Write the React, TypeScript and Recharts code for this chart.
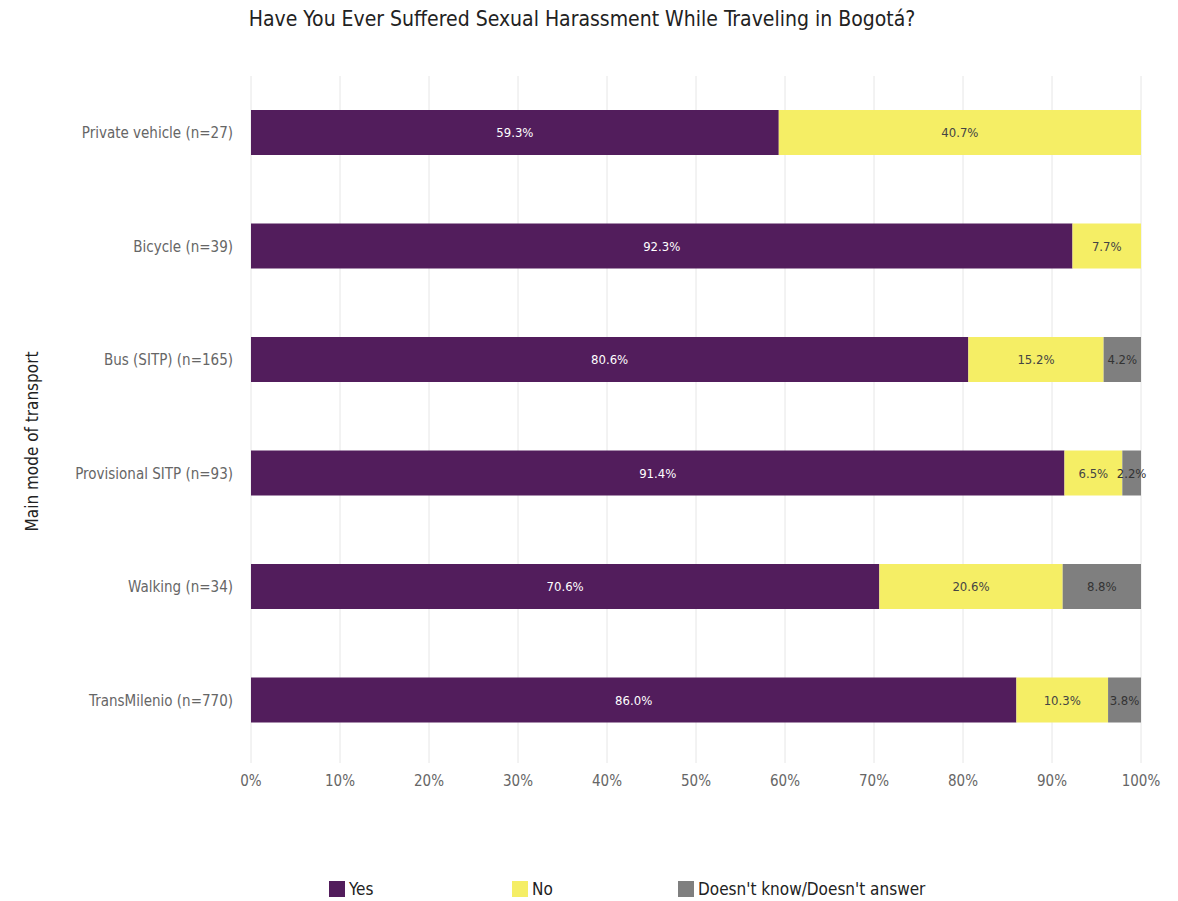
import React from "react";
import {
  BarChart,
  Bar,
  XAxis,
  YAxis,
  CartesianGrid,
  LabelList,
  Legend,
} from "recharts";

const modes = [
  "Private vehicle (n=27)",
  "Bicycle (n=39)",
  "Bus (SITP) (n=165)",
  "Provisional SITP (n=93)",
  "Walking (n=34)",
  "TransMilenio (n=770)",
];
const yesValues = [59.3, 92.3, 80.6, 91.4, 70.6, 86.0];
const noValues = [40.7, 7.7, 15.2, 6.5, 20.6, 10.3];
const dkValues = [0, 0, 4.2, 2.2, 8.8, 3.8];
const xTicks = [0, 10, 20, 30, 40, 50, 60, 70, 80, 90, 100];

const FONT =
  "'DejaVu Sans Condensed', 'Liberation Sans Narrow', 'Roboto Condensed', 'Liberation Sans', sans-serif";

const data = modes.map((mode, i) => ({
  mode,
  yes: yesValues[i],
  no: noValues[i],
  dk: dkValues[i],
}));

const series = [
  { key: "yes", name: "Yes", color: "#521d5c", text: "#ffffff" },
  { key: "no", name: "No", color: "#f5ee65", text: "#444444" },
  { key: "dk", name: "Doesn't know/Doesn't answer", color: "#7f7f7f", text: "#333333" },
];

const fmt = (v: any) => (v ? `${Number(v).toFixed(1)}%` : "");

function YAxisTitle(props: any) {
  const vb = props.viewBox || { x: 0, y: 0, height: 0 };
  const cx = 33;
  const cy = vb.y + vb.height / 2 + 25;
  return (
    <text
      x={cx}
      y={cy}
      transform={`rotate(-90 ${cx} ${cy})`}
      textAnchor="middle"
      dominantBaseline="middle"
      fontSize={17}
      fill="#222"
      fontFamily={FONT}
    >
      Main mode of transport
    </text>
  );
}

function LegendContent() {
  const lefts = [329, 512, 678];
  return (
    <div style={{ position: "relative", height: 24, fontFamily: FONT }}>
      {series.map((s, i) => (
        <div
          key={s.key}
          style={{
            position: "absolute",
            left: lefts[i],
            top: 0,
            display: "flex",
            alignItems: "center",
            fontSize: 17,
            color: "#222",
          }}
        >
          <span
            style={{
              display: "inline-block",
              width: 16,
              height: 16,
              background: s.color,
              marginRight: 4,
            }}
          />
          {s.name}
        </div>
      ))}
    </div>
  );
}

export default function App() {
  return (
    <div
      style={{
        position: "absolute",
        left: 0,
        top: 0,
        width: 1178,
        height: 901,
        background: "#fff",
        fontFamily: FONT,
      }}
    >
      <div
        style={{
          position: "absolute",
          left: 0,
          width: 1164,
          top: 7,
          textAlign: "center",
          fontSize: 21,
          color: "#222",
        }}
      >
        Have You Ever Suffered Sexual Harassment While Traveling in Bogotá?
      </div>
      <BarChart
        width={1178}
        height={901}
        data={data}
        layout="vertical"
        margin={{ top: 76, right: 37, left: 0, bottom: 0 }}
        barSize={45}
      >
        <CartesianGrid horizontal={false} stroke="#e6e6e6" />
        <XAxis
          type="number"
          domain={[0, 100]}
          ticks={xTicks}
          allowDataOverflow
          tickFormatter={(v) => `${v}%`}
          axisLine={false}
          tickLine={{ stroke: "#e6e6e6" }}
          tickSize={6}
          tickMargin={12}
          height={120}
          tick={{ fill: "#666", fontSize: 15 }}
        />
        <YAxis
          type="category"
          dataKey="mode"
          width={251}
          axisLine={false}
          tickLine={false}
          tickMargin={12}
          tick={{ fill: "#666", fontSize: 15 }}
          label={<YAxisTitle />}
        />
        <Legend verticalAlign="bottom" content={<LegendContent />} wrapperStyle={{ bottom: -2 }} />
        {series.map((s) => (
          <Bar
            key={s.key}
            dataKey={s.key}
            name={s.name}
            stackId="a"
            fill={s.color}
            isAnimationActive={false}
          >
            <LabelList
              dataKey={s.key}
              position="center"
              formatter={fmt}
              fill={s.text}
              fontSize={13}
              style={{ fontFamily: FONT }}
            />
          </Bar>
        ))}
      </BarChart>
    </div>
  );
}
